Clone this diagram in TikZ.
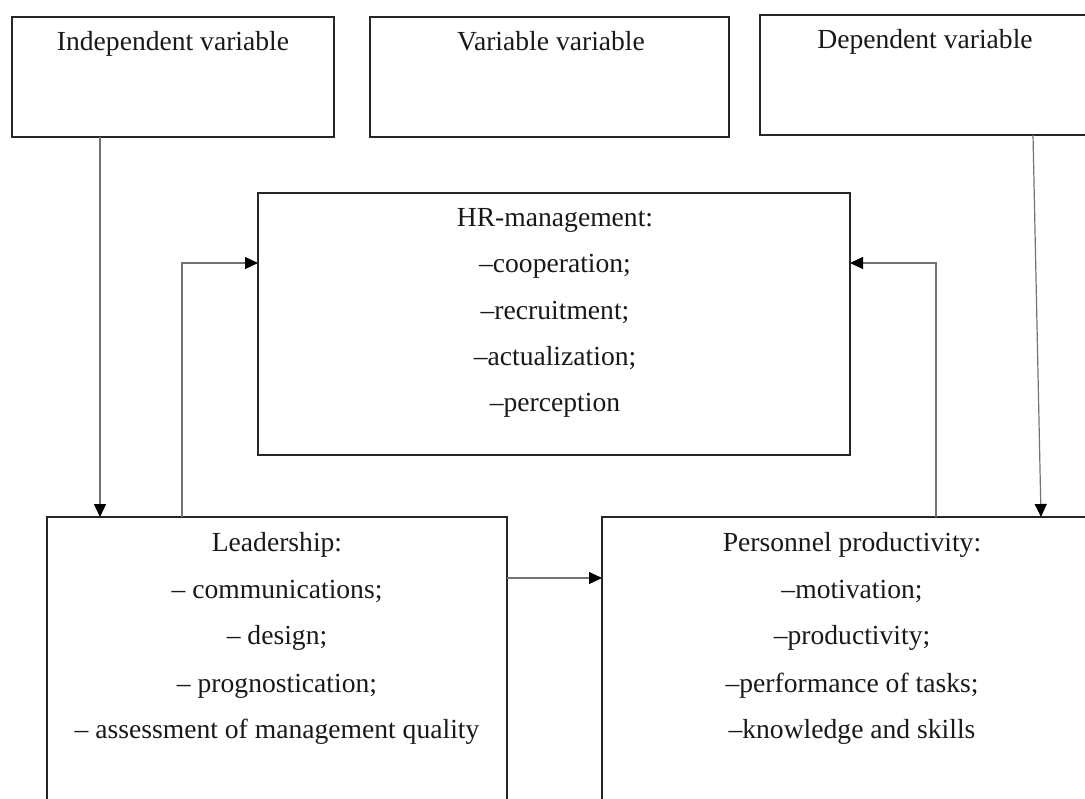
\documentclass[tikz,border=0pt]{standalone}
\usepackage{fontspec}
\setmainfont{Liberation Serif}
\usetikzlibrary{arrows.meta,calc}
\begin{document}
\begin{tikzpicture}[x=0.5pt,y=-0.5pt,
  box/.style={draw=black!85,line width=1pt,rectangle,inner sep=0pt,outer sep=0pt,anchor=north west},
  conn/.style={draw=black!55,line width=0.6pt,-{Triangle[length=6.5pt,width=6pt,fill=black,color=black]}},
  txt/.style={font=\fontsize{13.8}{16}\selectfont,inner sep=0pt,anchor=base,text=black!90}]
\useasboundingbox (0,0) rectangle (1085,798);
% boxes
\node[box,minimum width=161pt,minimum height=60pt] (tl) at (12,17) {};
\node[box,minimum width=179.5pt,minimum height=60pt] (tm) at (370,17) {};
\node[box,minimum width=165pt,minimum height=60pt] (tr) at (760,15) {};
\node[box,minimum width=296pt,minimum height=131pt] (hr) at (258,193) {};
\node[box,minimum width=230pt,minimum height=142.5pt] (ld) at (47,517) {};
\node[box,minimum width=244pt,minimum height=142.5pt] (pp) at (602,517) {};
% texts
\node[txt] (t1) at (173,50) {Independent variable};
\node[txt] (t2) at (551,50) {Variable variable};
\node[txt] (t3) at (925,48) {Dependent variable};
\node[txt] (h1) at (555,226) {HR-management:};
\node[txt] (h2) at (555,272) {–cooperation;};
\node[txt] (h3) at (555,319) {–recruitment;};
\node[txt] (h4) at (555,365) {–actualization;};
\node[txt] (h5) at (555,411) {–perception};
\node[txt] (l1) at (277,551) {Leadership:};
\node[txt] (l2) at (277,598) {– communications;};
\node[txt] (l3) at (277,644) {– design;};
\node[txt] (l4) at (277,692) {– prognostication;};
\node[txt] (l5) at (277,738) {– assessment of management quality};
\node[txt] (p1) at (852,551) {Personnel productivity:};
\node[txt] (p2) at (852,598) {–motivation;};
\node[txt] (p3) at (852,644) {–productivity;};
\node[txt] (p4) at (852,692) {–performance of tasks;};
\node[txt] (p5) at (852,738) {–knowledge and skills};
% connectors
\draw[conn] ($(tl.south west)+(88,0)$) -- ($(ld.north west)+(53,0)$);
\draw[conn] ($(tr.south west)+(273,0)$) -- ($(pp.north west)+(439,0)$);
\draw[conn] ($(ld.north west)+(135,0)$) |- ($(hr.north west)+(0,70)$);
\draw[conn] ($(pp.north west)+(334,0)$) |- ($(hr.north east)+(0,70)$);
\draw[conn] ($(ld.north east)+(0,61)$) -- ($(pp.north west)+(0,61)$);
\end{tikzpicture}
\end{document}
